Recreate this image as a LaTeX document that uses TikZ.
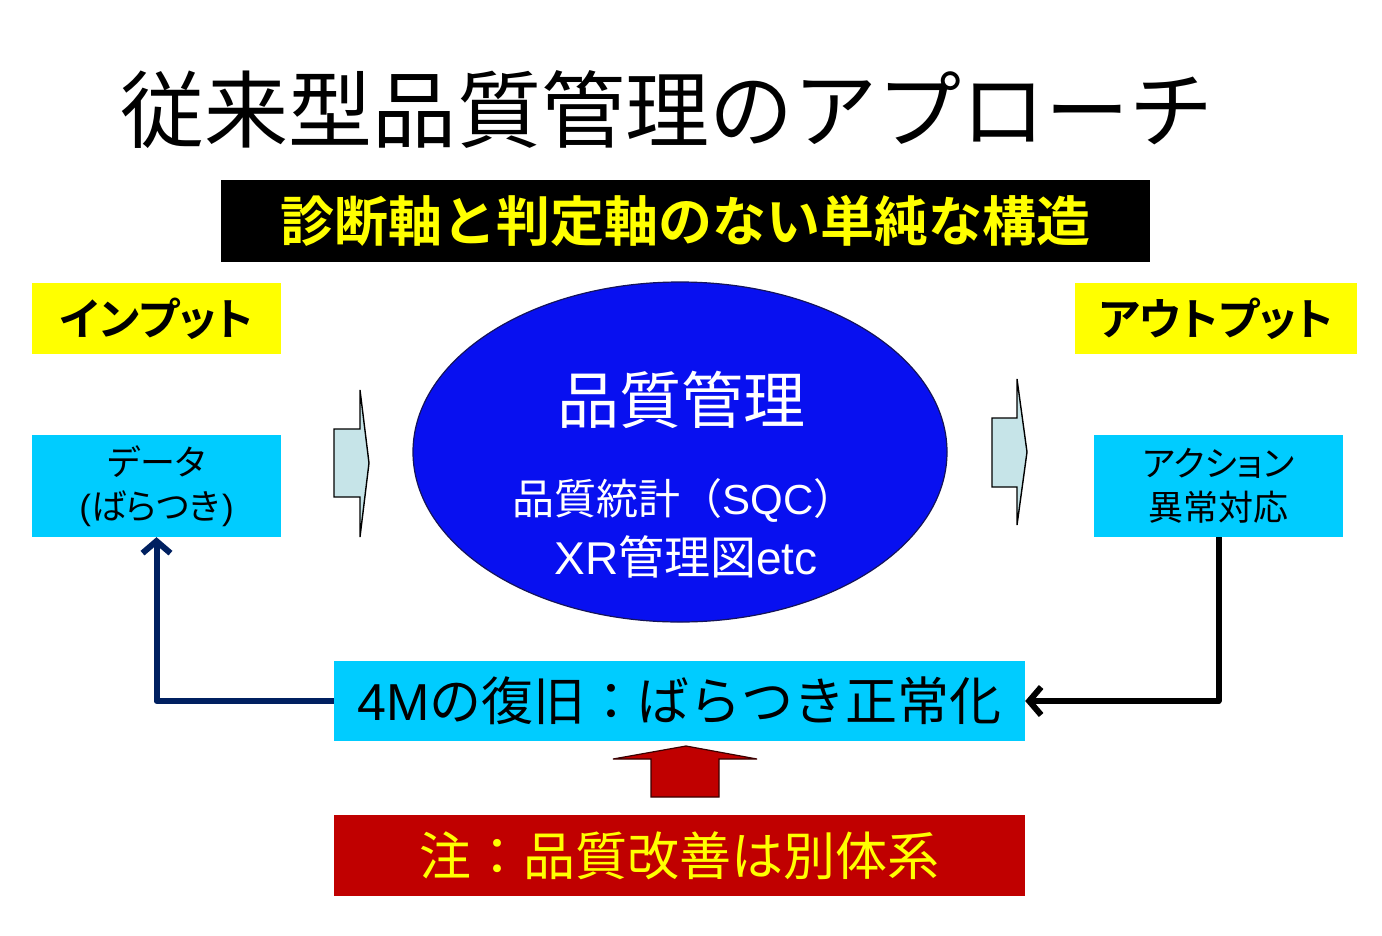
\documentclass[tikz,border=0pt]{standalone}
\usepackage{fontspec}
\usetikzlibrary{arrows.meta,shapes.geometric}
\setmainfont{Noto Sans CJK JP}
\newfontfamily\jp{Noto Sans CJK JP}
\newfontfamily\jpp[RawFeature=+palt]{Noto Sans CJK JP}
\newfontfamily\jpb{Noto Sans CJK JP Bold}
\newfontfamily\jpbp[RawFeature=+palt]{Noto Sans CJK JP Bold}
\newfontfamily\lat{Liberation Sans}
\newcommand{\fsz}[2]{\fontsize{#1bp}{#2bp}\selectfont}

\definecolor{skycyan}{RGB}{0,204,255}
\definecolor{hiyellow}{RGB}{255,255,0}
\definecolor{deepred}{RGB}{192,0,0}
\definecolor{ovalblue}{RGB}{8,16,240}
\definecolor{ovaledge}{RGB}{20,20,90}
\definecolor{navyline}{RGB}{0,32,96}
\definecolor{paleblue}{RGB}{198,228,232}

\tikzset{
  box/.style={rectangle, inner sep=0pt, align=center},
  cyanbox/.style={box, fill=skycyan},
  yellowbox/.style={box, fill=hiyellow},
  loop/.style={line width=6bp, line join=round,
    -{Straight Barb[length=12bp,width=28bp,line width=6bp]}},
  flowarrow/.style={fill=paleblue, draw=black, line width=1.4bp, line join=miter},
}

\begin{document}
\begin{tikzpicture}[x=1bp,y=-1bp]
\useasboundingbox (0,0) rectangle (1382,935);
\fill[white] (0,0) rectangle (1382,935);

% heading
\node[box, font=\jp\fsz{84}{84}] (title) at (667,110) {従来型品質管理のアプローチ};

% subtitle banner
\node[box, fill=black, minimum width=929bp, minimum height=82bp, text=hiyellow,
  font=\jpb\fsz{54}{54}] (banner) at (685.5,221) {診断軸と判定軸のない単純な構造};

% input / output labels
\node[yellowbox, minimum width=249bp, minimum height=71bp, font=\jpbp\fsz{44}{44}]
  (inlabel) at (156.5,318.5) {インプット};
\node[yellowbox, minimum width=282bp, minimum height=71bp, font=\jpbp\fsz{44}{44}]
  (outlabel) at (1216,318.5) {アウトプット};

% input and output boxes
\node[cyanbox, minimum width=249bp, minimum height=102bp, font=\jpp\fsz{35}{44}]
  (data) at (156.5,486) {データ\\{\lat(}ばらつき\kern2bp{\lat)}};
\node[cyanbox, minimum width=249bp, minimum height=102bp, font=\jpp\fsz{35}{44}]
  (action) at (1218.5,486) {アクション\\異常対応};

% central process
\node[ellipse, fill=ovalblue, draw=ovaledge, line width=1.2bp,
  minimum width=534bp, minimum height=340bp, inner sep=0pt] (qc) at (680,452) {};
\node[box, text=white, font=\jp\fsz{62}{62}] (qctitle) at (681,400) {品質管理};
\node[box, text=white, font=\jp\fsz{42}{42}] (qcline1) at (684,500) {品質統計（{\lat SQC}）};
\node[box, text=white, font=\jp\fsz{46}{46}] (qcline2) at (686,557) {{\lat XR}管理図{\lat etc}};

% flow arrows into and out of the process
\draw[flowarrow] (334,429) -- (360,429) -- (360,390) -- (369,463) -- (360,537)
  -- (360,497) -- (334,497) -- cycle;
\draw[flowarrow] (992,418) -- (1017,418) -- (1017,379) -- (1027,452) -- (1017,525)
  -- (1017,487) -- (992,487) -- cycle;

% recovery step and note
\node[cyanbox, minimum width=691bp, minimum height=80bp, font=\jp\fsz{52}{52}]
  (fix) at (679.5,701) {{\lat 4M}の復旧：ばらつき正常化};
\node[box, fill=deepred, minimum width=691bp, minimum height=81bp, text=hiyellow,
  font=\jp\fsz{52}{52}] (note) at (679.5,855.5) {注：品質改善は別体系};

% upward block arrow from the note
\draw[fill=deepred, draw=black!70!deepred, line width=1.2bp]
  (651,797) -- (651,759) -- (613,759) -- (686,746) -- (757,759) -- (719,759)
  -- (719,797) -- cycle;

% feedback loop
\draw[loop, navyline] (fix.west) -| (data.south);
\draw[loop, black] (action.south) |- (fix.east);
\end{tikzpicture}
\end{document}
